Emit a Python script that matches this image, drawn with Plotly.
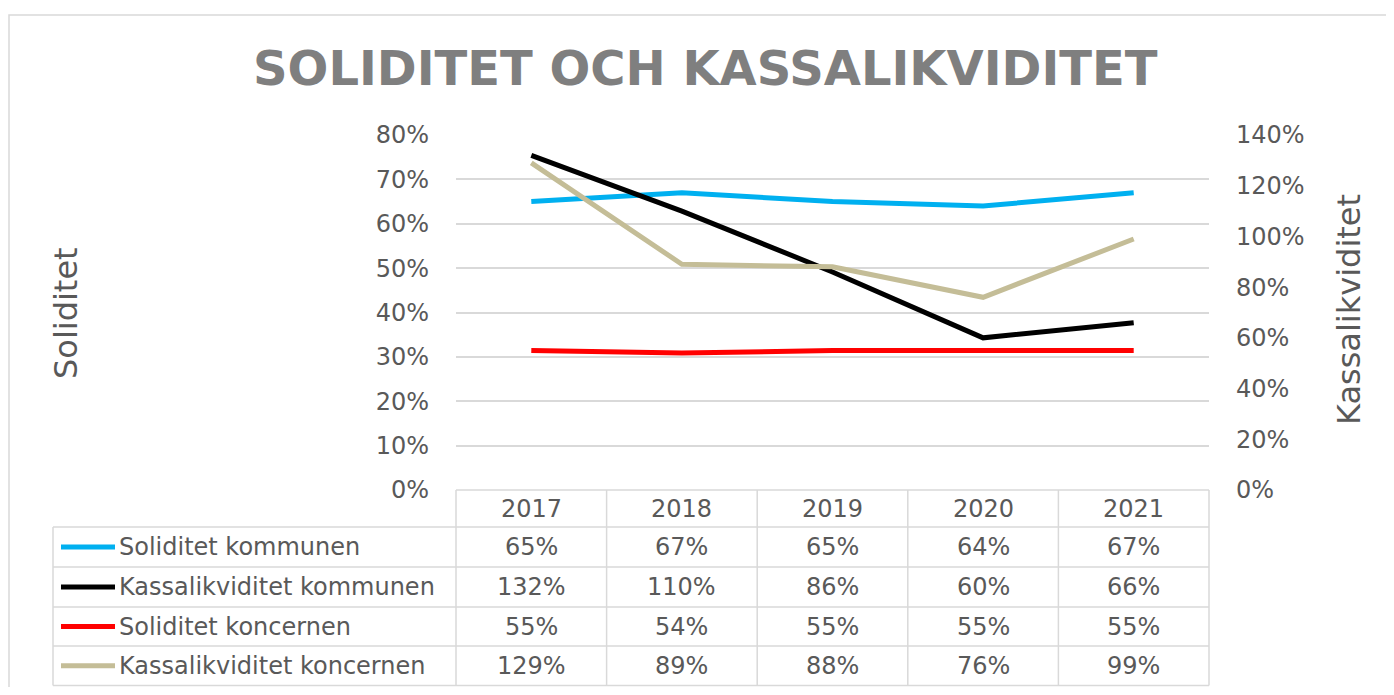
import plotly.graph_objects as go

years = ["2017", "2018", "2019", "2020", "2021"]
series_names = ["Soliditet kommunen", "Kassalikviditet kommunen",
                "Soliditet koncernen", "Kassalikviditet koncernen"]
soliditet_kommunen = [0.65, 0.67, 0.65, 0.64, 0.67]
kassalikviditet_kommunen = [1.32, 1.10, 0.86, 0.60, 0.66]
soliditet_koncernen = [0.55, 0.54, 0.55, 0.55, 0.55]
kassalikviditet_koncernen = [1.29, 0.89, 0.88, 0.76, 0.99]
left_ticks = [0, 0.1, 0.2, 0.3, 0.4, 0.5, 0.6, 0.7, 0.8]
right_ticks = [0, 0.2, 0.4, 0.6, 0.8, 1.0, 1.2, 1.4]

values = [soliditet_kommunen, kassalikviditet_kommunen,
          soliditet_koncernen, kassalikviditet_koncernen]
colors = ["#00B0F0", "#000000", "#FF0000", "#C4BD97"]
axes = ["y", "y2", "y2", "y2"]

OFF = 8  # default page body margin
W, H = 1394 - 2 * OFF, 695 - 2 * OFF
FONT = "DejaVu Sans"
TXT = "#595959"
GRID = "#d9d9d9"


def px(x):
    return (x - OFF) / W


def py(y):
    return 1 - (y - OFF) / H


fig = go.Figure()
for name, vals, col, ax in zip(series_names, values, colors, axes):
    fig.add_trace(go.Scatter(x=years, y=vals, name=name, mode="lines",
                             line=dict(color=col, width=5), yaxis=ax,
                             showlegend=False))

# geometry (page pixel coordinates)
plot_l, plot_r, plot_t, plot_b = 456, 1209, 135, 490
table_l = 53
row_edges = [490, 527, 567, 607, 646, 685.5]

shapes = []
# outer chart border
shapes.append(dict(type="rect", xref="paper", yref="paper",
                   x0=px(9), x1=px(1420), y0=py(15), y1=py(720),
                   line=dict(color=GRID, width=1.5)))
n = len(years)
col_w = (plot_r - plot_l) / n
shapes.append(dict(type="line", xref="paper", yref="paper",
                   x0=px(plot_l), x1=px(plot_r), y0=py(row_edges[0]), y1=py(row_edges[0]),
                   line=dict(color=GRID, width=1.5)))
for yy in row_edges[1:]:
    shapes.append(dict(type="line", xref="paper", yref="paper",
                       x0=px(table_l), x1=px(plot_r), y0=py(yy), y1=py(yy),
                       line=dict(color=GRID, width=1.5)))
shapes.append(dict(type="line", xref="paper", yref="paper",
                   x0=px(table_l), x1=px(table_l), y0=py(row_edges[1]), y1=py(row_edges[-1]),
                   line=dict(color=GRID, width=1.5)))
for i in range(n + 1):
    xx = plot_l + i * col_w
    shapes.append(dict(type="line", xref="paper", yref="paper",
                       x0=px(xx), x1=px(xx), y0=py(row_edges[0]), y1=py(row_edges[-1]),
                       line=dict(color=GRID, width=1.5)))

annotations = []
tfont = dict(family=FONT, size=24, color=TXT)
for i, yr in enumerate(years):
    cx = plot_l + (i + 0.5) * col_w
    annotations.append(dict(x=px(cx), y=py((row_edges[0] + row_edges[1]) / 2),
                            xref="paper", yref="paper", text=yr, showarrow=False,
                            font=tfont, xanchor="center", yanchor="middle"))
for r, (name, vals, col) in enumerate(zip(series_names, values, colors)):
    cy = (row_edges[r + 1] + row_edges[r + 2]) / 2
    shapes.append(dict(type="line", xref="paper", yref="paper",
                       x0=px(61), x1=px(115), y0=py(cy), y1=py(cy),
                       line=dict(color=col, width=5)))
    annotations.append(dict(x=px(117), y=py(cy), xref="paper", yref="paper",
                            text=name, showarrow=False, font=tfont,
                            xanchor="left", yanchor="middle"))
    for i, v in enumerate(vals):
        cx = plot_l + (i + 0.5) * col_w
        annotations.append(dict(x=px(cx), y=py(cy), xref="paper", yref="paper",
                                text=f"{round(v * 100)}%", showarrow=False, font=tfont,
                                xanchor="center", yanchor="middle"))

annotations.append(dict(x=px(705), y=py(68), xref="paper", yref="paper",
                        text="<b>SOLIDITET OCH KASSALIKVIDITET</b>", showarrow=False,
                        font=dict(family=FONT, size=48, color="#7f7f7f"),
                        xanchor="center", yanchor="middle"))
annotations.append(dict(x=px(66), y=py(313), xref="paper", yref="paper",
                        text="Soliditet", showarrow=False, textangle=-90,
                        font=dict(family=FONT, size=32, color=TXT),
                        xanchor="center", yanchor="middle"))
annotations.append(dict(x=px(1349), y=py(310), xref="paper", yref="paper",
                        text="Kassalikviditet", showarrow=False, textangle=-90,
                        font=dict(family=FONT, size=32, color=TXT),
                        xanchor="center", yanchor="middle"))

fig.update_layout(
    width=W, height=H, autosize=False,
    margin=dict(l=0, r=0, t=0, b=0, pad=0, autoexpand=False),
    paper_bgcolor="white", plot_bgcolor="white",
    showlegend=False,
    xaxis=dict(type="category", range=[-0.5, n - 0.5], domain=[px(plot_l), px(plot_r)],
               showticklabels=False, showgrid=False, zeroline=False, showline=False,
               automargin=False, fixedrange=True),
    yaxis=dict(range=[0, 0.8], tickvals=left_ticks, tickformat=".0%",
               domain=[py(plot_b), py(plot_t)], automargin=False,
               showgrid=True, gridcolor=GRID, gridwidth=1.5, zeroline=False,
               showline=False, ticks="", ticklabelstandoff=26,
               tickfont=dict(family=FONT, size=24, color=TXT)),
    yaxis2=dict(range=[0, 1.4], tickvals=right_ticks, tickformat=".0%",
                overlaying="y", side="right", showgrid=False, zeroline=False,
                showline=False, ticks="", ticklabelstandoff=26, automargin=False,
                tickfont=dict(family=FONT, size=24, color=TXT)),
    shapes=shapes,
    annotations=annotations,
)

fig.write_html("out.html")
